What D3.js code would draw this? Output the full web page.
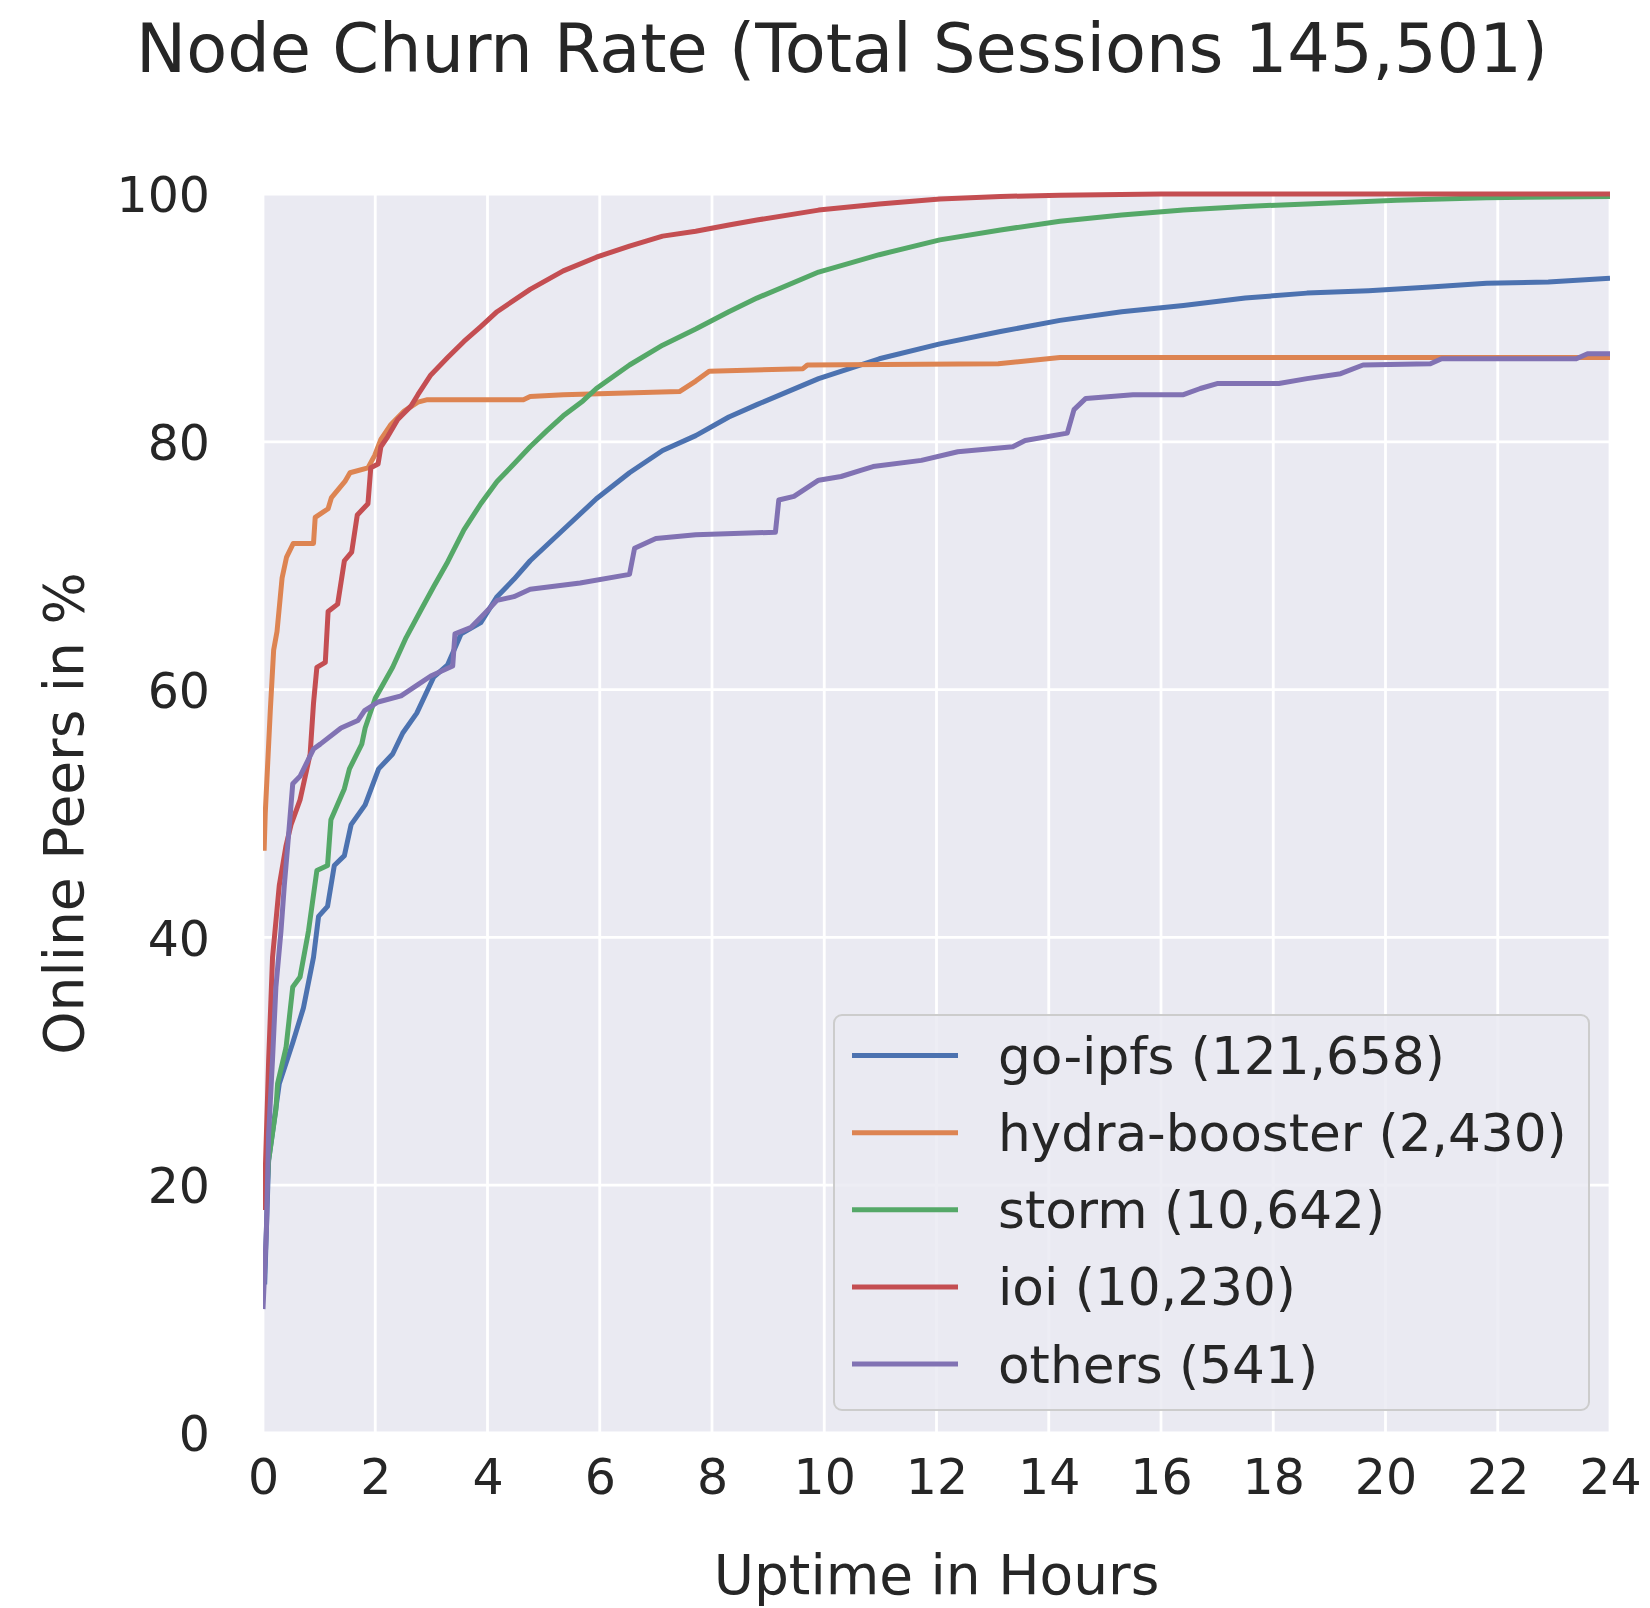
<!DOCTYPE html>
<html>
<head>
<meta charset="utf-8">
<script src="https://cdn.jsdelivr.net/npm/d3@7"></script>
<style>
  html, body { margin: 0; padding: 0; background: #ffffff; }
  svg { display: block; }
  text { font-family: "DejaVu Sans", sans-serif; fill: #262626; }
</style>
</head>
<body>
<svg id="chart" width="1650" height="1608"></svg>
<script>
// ---- data (hours, % online) ----
const xTicks = [0, 2, 4, 6, 8, 10, 12, 14, 16, 18, 20, 22, 24];
const yTicks = [0, 20, 40, 60, 80, 100];

const seriesNames = ["go-ipfs (121,658)", "hydra-booster (2,430)", "storm (10,642)", "ioi (10,230)", "others (541)"];
const seriesColors = ["#4c72b0", "#dd8452", "#55a868", "#c44e52", "#8172b3"];

const goIpfs = [[0.03,12],[0.1,22],[0.29,28.2],[0.53,31.5],[0.72,34.3],[0.9,38.4],[0.99,41.7],[1.15,42.5],[1.27,45.8],[1.45,46.6],[1.57,49.1],[1.82,50.7],[2.06,53.6],[2.31,54.8],[2.49,56.5],[2.74,58.1],[3.04,61.0],[3.29,62.0],[3.53,64.5],[3.88,65.4],[4.17,67.5],[4.47,68.9],[4.76,70.4],[5.35,72.9],[5.94,75.4],[6.53,77.5],[7.12,79.3],[7.71,80.5],[8.3,82.0],[8.8,83.0],[9.9,85.1],[10.98,86.7],[12.06,87.9],[13.14,88.9],[14.2,89.8],[15.3,90.5],[16.4,91.0],[17.5,91.6],[18.6,92.0],[19.7,92.2],[20.8,92.5],[21.8,92.8],[22.9,92.9],[24,93.2]];

const hydraBooster = [[0.02,47],[0.04,50],[0.13,58.3],[0.19,63.2],[0.25,64.7],[0.34,69.0],[0.42,70.7],[0.54,71.8],[0.9,71.8],[0.93,73.9],[1.16,74.6],[1.22,75.5],[1.46,76.8],[1.55,77.5],[1.87,77.9],[1.99,78.9],[2.1,80.2],[2.28,81.4],[2.52,82.5],[2.76,83.2],[2.93,83.4],[4.64,83.4],[4.76,83.65],[5.35,83.8],[7.42,84.05],[7.71,84.9],[7.95,85.7],[9.62,85.9],[9.7,86.2],[13.1,86.3],[14.2,86.8],[24,86.8]];

const storm = [[0.05,18],[0.1,22],[0.23,26.1],[0.26,28.2],[0.41,31.1],[0.53,36],[0.66,36.8],[0.81,40.5],[0.96,45.4],[1.15,45.8],[1.21,49.5],[1.45,52],[1.54,53.6],[1.76,55.6],[1.82,56.9],[2.0,59.3],[2.31,61.8],[2.55,64.2],[2.8,66.3],[3.04,68.3],[3.29,70.3],[3.58,72.9],[3.88,75.0],[4.17,76.8],[4.47,78.2],[4.76,79.6],[5.06,80.9],[5.35,82.1],[5.7,83.3],[5.94,84.3],[6.53,86.2],[7.12,87.8],[7.71,89.1],[8.3,90.5],[8.8,91.6],[9.9,93.7],[10.98,95.1],[12.06,96.3],[13.14,97.1],[14.2,97.8],[15.3,98.3],[16.4,98.7],[17.5,99.0],[18.6,99.2],[20.2,99.5],[21.8,99.7],[24,99.8]];

const ioi = [[0.02,18],[0.04,21],[0.1,30],[0.17,38.4],[0.29,44.2],[0.41,47.4],[0.5,49.1],[0.66,51.1],[0.84,54.8],[0.9,58.9],[0.96,61.8],[1.11,62.2],[1.16,66.3],[1.33,66.9],[1.45,70.4],[1.58,71.1],[1.68,74.1],[1.87,75.0],[1.92,77.9],[2.05,78.2],[2.1,79.6],[2.22,80.4],[2.4,81.8],[2.64,82.9],[2.76,83.8],[2.99,85.4],[3.29,86.8],[3.58,88.1],[3.88,89.3],[4.17,90.5],[4.76,92.3],[5.35,93.8],[5.94,94.9],[6.53,95.8],[7.12,96.6],[7.71,97.0],[8.3,97.5],[8.8,97.9],[9.9,98.7],[10.98,99.2],[12.06,99.6],[13.14,99.8],[14.2,99.9],[16,100],[24,100]];

const others = [[0.0,10],[0.06,16.3],[0.1,24.1],[0.17,30.2],[0.23,36],[0.32,40.5],[0.38,44.2],[0.44,47.4],[0.53,52.4],[0.66,53],[0.9,55.2],[1.02,55.6],[1.39,56.9],[1.69,57.5],[1.81,58.3],[2.05,59.0],[2.46,59.5],[2.76,60.4],[2.99,61.1],[3.38,61.9],[3.42,64.5],[3.7,65.0],[3.94,66.1],[4.17,67.2],[4.47,67.5],[4.76,68.1],[5.65,68.6],[6.53,69.3],[6.62,71.4],[7.0,72.2],[7.71,72.5],[9.13,72.7],[9.19,75.3],[9.46,75.6],[9.9,76.9],[10.3,77.2],[10.65,77.7],[10.87,78.0],[11.73,78.5],[12.38,79.2],[13.36,79.6],[13.58,80.1],[14.33,80.7],[14.45,82.6],[14.66,83.5],[15.5,83.8],[16.4,83.8],[16.7,84.3],[17.0,84.7],[18.1,84.7],[18.6,85.1],[19.2,85.5],[19.6,86.2],[20.8,86.3],[21.0,86.7],[23.4,86.7],[23.6,87.1],[24,87.1]];

const seriesData = [goIpfs, hydraBooster, storm, ioi, others];

// ---- layout ----
const svg = d3.select("#chart");
const plot = { left: 263, right: 1610, top: 194, bottom: 1433 };

const x = d3.scaleLinear().domain([0, 24]).range([plot.left, plot.right]);
const y = d3.scaleLinear().domain([0, 100]).range([plot.bottom, plot.top]);

// background
svg.append("rect")
  .attr("x", plot.left).attr("y", plot.top)
  .attr("width", plot.right - plot.left).attr("height", plot.bottom - plot.top)
  .attr("fill", "#eaeaf2");

// grid
const grid = svg.append("g");
grid.selectAll("line.vx").data(xTicks).enter().append("line")
  .attr("x1", d => x(d)).attr("x2", d => x(d))
  .attr("y1", plot.top).attr("y2", plot.bottom)
  .attr("stroke", "#ffffff").attr("stroke-width", 2.8);
grid.selectAll("line.hy").data(yTicks).enter().append("line")
  .attr("x1", plot.left).attr("x2", plot.right)
  .attr("y1", d => y(d)).attr("y2", d => y(d))
  .attr("stroke", "#ffffff").attr("stroke-width", 2.8);

// axes (tick labels only, seaborn style)
const xAxis = d3.axisBottom(x).tickValues(xTicks).tickSize(0).tickPadding(0).tickFormat(d3.format("d"));
const gx = svg.append("g").attr("transform", `translate(0,${plot.bottom})`).call(xAxis);
gx.select(".domain").remove();
gx.selectAll("text").attr("y", 61).attr("dy", null)
  .style("font-size", "49px").style("font-family", "DejaVu Sans").attr("fill", "#262626");

const yAxis = d3.axisLeft(y).tickValues(yTicks).tickSize(0).tickPadding(0).tickFormat(d3.format("d"));
const gy = svg.append("g").attr("transform", `translate(${plot.left},0)`).call(yAxis);
gy.select(".domain").remove();
gy.selectAll("text").attr("x", -53).attr("dy", "0.36em")
  .style("font-size", "49px").style("font-family", "DejaVu Sans").attr("fill", "#262626");

// lines
const line = d3.line().x(d => x(d[0])).y(d => y(d[1])).curve(d3.curveLinear);
const clip = svg.append("clipPath").attr("id", "plotclip").append("rect")
  .attr("x", plot.left).attr("y", plot.top - 4)
  .attr("width", plot.right - plot.left).attr("height", plot.bottom - plot.top + 4);
const lines = svg.append("g").attr("clip-path", "url(#plotclip)");
seriesData.forEach((s, i) => {
  lines.append("path")
    .attr("d", line(s))
    .attr("fill", "none")
    .attr("stroke", seriesColors[i])
    .attr("stroke-width", 5)
    .attr("stroke-linejoin", "round")
    .attr("stroke-linecap", "butt");
});

// legend
const leg = svg.append("g");
leg.append("rect")
  .attr("x", 834).attr("y", 1015).attr("width", 755).attr("height", 395)
  .attr("rx", 8).attr("ry", 8)
  .attr("fill", "rgba(234,234,242,0.85)")
  .attr("stroke", "#cccccc").attr("stroke-width", 2);
const legY = d3.scaleLinear().domain([0, 4]).range([1055.5, 1364]);
seriesNames.forEach((name, i) => {
  leg.append("line")
    .attr("x1", 852).attr("x2", 958)
    .attr("y1", legY(i)).attr("y2", legY(i))
    .attr("stroke", seriesColors[i]).attr("stroke-width", 5);
  leg.append("text")
    .attr("x", 998).attr("y", legY(i)).attr("dy", "0.36em")
    .style("font-size", "51.7px")
    .text(name);
});

// title & axis labels
svg.append("text")
  .attr("x", 842).attr("y", 72)
  .attr("text-anchor", "middle")
  .style("font-size", "67px")
  .text("Node Churn Rate (Total Sessions 145,501)");

svg.append("text")
  .attr("x", (plot.left + plot.right) / 2).attr("y", 1594)
  .attr("text-anchor", "middle")
  .style("font-size", "55px")
  .text("Uptime in Hours");

svg.append("text")
  .attr("transform", `translate(83,${(plot.top + plot.bottom) / 2}) rotate(-90)`)
  .attr("text-anchor", "middle")
  .style("font-size", "55px")
  .text("Online Peers in %");
</script>
</body>
</html>
